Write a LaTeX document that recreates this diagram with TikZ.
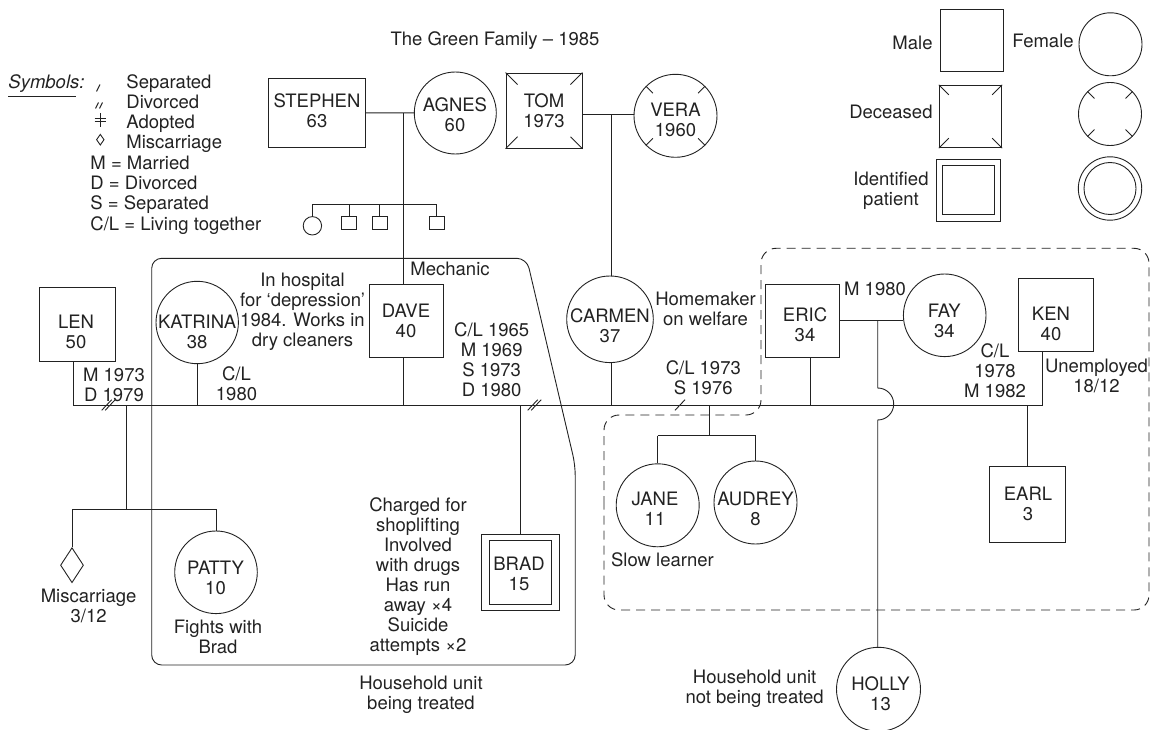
\documentclass[tikz,border=0pt]{standalone}
\usepackage{fontspec}
\setmainfont{TeX Gyre Heros}
\usetikzlibrary{shapes.geometric,calc}
\definecolor{ink}{HTML}{222222}
\newcommand{\fsz}{\fontsize{18.5}{20}\selectfont}
\begin{document}
\begin{tikzpicture}[x=1pt,y=-1pt,color=ink,line width=0.9pt,
  mbox/.style={draw,rectangle,inner sep=0pt},
  fcirc/.style={draw,circle,inner sep=0pt},
  txt/.style={font=\fsz,align=center,inner sep=0pt,anchor=north},
  lbl/.style={font=\fsz,inner sep=0pt},
  dashbox/.style={dash pattern=on 9pt off 6pt}]
\useasboundingbox (0,0) rectangle (1162,730);

% ---------- title ----------
\node[lbl,anchor=base] (title) at (495,46) {The Green Family – 1985};

% ---------- symbols legend ----------
\node[lbl,anchor=base west,font=\fsz\itshape] (symb) at (8,89) {Symbols:};
\draw (8,96) -- (76,96);
\draw (96.5,91.5) -- (100,84.5);
\draw (95.5,108.5) -- (98.5,102.5);
\draw (99.5,108.5) -- (102.5,102.5);
\draw (100,113) -- (100,127);
\draw (94.5,118.5) -- (105.5,118.5);
\draw (94.5,121.5) -- (105.5,121.5);
\draw (100.3,134.4) -- (104,139.7) -- (100.3,145) -- (96.6,139.7) -- cycle;
\node[lbl,anchor=base west] (lg1) at (126,89) {Separated};
\node[lbl,anchor=base west] (lg2) at (126,109) {Divorced};
\node[lbl,anchor=base west] (lg3) at (126,129) {Adopted};
\node[lbl,anchor=base west] (lg4) at (126,149) {Miscarriage};
\node[lbl,anchor=base west] (lg5) at (90,170) {M = Married};
\node[lbl,anchor=base west] (lg6) at (90,190) {D = Divorced};
\node[lbl,anchor=base west] (lg7) at (90,210) {S = Separated};
\node[lbl,anchor=base west] (lg8) at (90,230) {C/L = Living together};

% ---------- shape legend ----------
\node[lbl,anchor=base east] (l-male) at (933,50) {Male};
\node[mbox,minimum width=63pt,minimum height=62pt] (s-male) at (971.5,40.8) {};
\node[lbl,anchor=base west] (l-female) at (1012,48) {Female};
\node[fcirc,minimum size=63pt] (s-female) at (1110.5,44.3) {};
\node[lbl,anchor=base east] (l-dec) at (933,119) {Deceased};
\node[mbox,minimum width=62.4pt,minimum height=62.4pt] (s-decm) at (970.5,116.5) {};
\draw (s-decm.north west) -- ++(10,10);
\draw (s-decm.north east) -- ++(-10,10);
\draw (s-decm.south west) -- ++(10,-10);
\draw (s-decm.south east) -- ++(-10,-10);
\node[fcirc,minimum size=63pt] (s-decf) at (1110,114) {};
\foreach \a in {45,135,225,315}{\draw (s-decf.\a) -- ($(s-decf.\a)!10pt!(s-decf.center)$);}
\node[txt] (l-ip) at (891,172) {Identified\\patient};
\node[mbox,minimum width=64pt,minimum height=61.7pt] (s-ipm) at (968.7,190.2) {};
\node[mbox,minimum width=51.3pt,minimum height=49.3pt] (s-ipm2) at (968.4,190.3) {};
\node[fcirc,minimum size=63.4pt] (s-ipf) at (1110,188.5) {};
\node[fcirc,minimum size=52pt] (s-ipf2) at (1110,188.5) {};

% ---------- grandparents ----------
\node[mbox,minimum width=97.4pt,minimum height=69.3pt] (stephen) at (317,112.7) {};
\node[txt] (t-stephen) at (317,93.7) {STEPHEN\\63};
\node[fcirc,minimum size=82pt] (agnes) at (455.3,113) {};
\node[txt] (t-agnes) at (455,97) {AGNES\\60};
\node[mbox,minimum width=76pt,minimum height=75.3pt] (tom) at (544,110.7) {};
\node[txt] (t-tom) at (544,93) {TOM\\1973};
\draw (tom.north west) -- ++(12,12);
\draw (tom.north east) -- ++(-12,12);
\draw (tom.south west) -- ++(12,-12);
\draw (tom.south east) -- ++(-12,-12);
\node[fcirc,minimum size=83pt] (vera) at (675.5,115.8) {};
\node[txt] (t-vera) at (675.5,103) {VERA\\1960};
\foreach \a in {45,135,225,315}{\draw (vera.\a) -- ($(vera.\a)!10pt!(vera.center)$);}

% Stephen & Agnes' other children
\node[fcirc,minimum size=18.4pt] (sib1) at (312.4,225.8) {};
\node[mbox,minimum width=15pt,minimum height=12.5pt] (sib2) at (349.2,222.9) {};
\node[mbox,minimum width=15pt,minimum height=12.5pt] (sib3) at (379.8,222.9) {};
\node[mbox,minimum width=15pt,minimum height=12.5pt] (sib4) at (436.5,222.9) {};

% ---------- middle generation ----------
\node[mbox,minimum width=76.4pt,minimum height=73.7pt] (len) at (77.5,324.2) {};
\node[txt] (t-len) at (76,315) {LEN\\50};
\node[fcirc,minimum size=82.4pt] (katrina) at (197.2,322.5) {};
\node[txt] (t-katrina) at (197.2,314.3) {KATRINA\\38};
\node[txt] (t-hosp) at (302.5,273) {In hospital\\for ‘depression’\\1984. Works in\\dry cleaners};
\node[mbox,minimum width=74pt,minimum height=73.3pt] (dave) at (406.3,320.7) {};
\node[txt] (t-dave) at (406,303.7) {DAVE\\40};
\node[lbl,anchor=base west] (t-mech) at (410,275) {Mechanic};
\node[txt] (t-dm) at (491.7,322) {C/L 1965\\M 1969\\S 1973\\D 1980};
\node[fcirc,minimum size=86.6pt] (carmen) at (610,319.3) {};
\node[txt] (t-carmen) at (610,308.7) {CARMEN\\37};
\node[txt] (t-home) at (705.5,292) {Homemaker\\on welfare};
\node[txt] (t-ce) at (703.3,360.3) {C/L 1973\\S 1976};
\node[mbox,minimum width=73.3pt,minimum height=73.3pt] (eric) at (802.3,320.7) {};
\node[txt] (t-eric) at (805,307) {ERIC\\34};
\node[lbl,anchor=base] (t-ef) at (875,295.7) {M 1980};
\node[fcirc,minimum size=82.6pt] (fay) at (944.7,315.3) {};
\node[txt] (t-fay) at (944.3,303.7) {FAY\\34};
\node[txt] (t-ck) at (995,343) {C/L\\1978\\M 1982};
\node[mbox,minimum width=75pt,minimum height=72.7pt] (ken) at (1055.8,314.7) {};
\node[txt] (t-ken) at (1051,307) {KEN\\40};
\node[txt] (t-unemp) at (1096.5,358.7) {Unemployed\\18/12};
\node[txt] (t-lk) at (114,368) {M 1973\\D 1979};
\node[txt] (t-kd) at (236.5,366.3) {C/L\\1980};

% ---------- children ----------
\node[diamond,draw,inner sep=0pt,minimum width=23pt,minimum height=35pt] (misc) at (72,565.2) {};
\node[txt] (t-misc) at (88.6,588.7) {Miscarriage\\3/12};
\node[fcirc,minimum size=82.6pt] (patty) at (216,572.3) {};
\node[txt] (t-patty) at (215.5,560.3) {PATTY\\10};
\node[txt] (t-fights) at (218,619.3) {Fights with\\Brad};
\node[mbox,minimum width=77.3pt,minimum height=76.7pt] (brad) at (520.5,572.3) {};
\node[mbox,minimum width=62.3pt,minimum height=63.3pt] (brad2) at (520.5,572.3) {};
\node[txt] (t-brad) at (519,557) {BRAD\\15};
\node[txt] (t-charged) at (418,497) {Charged for\\shoplifting\\Involved\\with drugs\\Has run\\away ×4\\Suicide\\attempts ×2};
\node[txt] (t-treated) at (421,675.3) {Household unit\\being treated};
\node[fcirc,minimum size=83pt] (jane) at (657.7,505.3) {};
\node[txt] (t-jane) at (655,492) {JANE\\11};
\node[fcirc,minimum size=83pt] (audrey) at (755.5,502.5) {};
\node[txt] (t-audrey) at (755.5,492) {AUDREY\\8};
\node[lbl,anchor=base west] (t-slow) at (610.7,566.7) {Slow learner};
\node[mbox,minimum width=75.8pt,minimum height=76.7pt] (earl) at (1027.7,504.3) {};
\node[txt] (t-earl) at (1028,486.3) {EARL\\3};
\node[fcirc,minimum size=84pt] (holly) at (878.5,689.3) {};
\node[txt] (t-holly) at (880.5,676.3) {HOLLY\\13};
\node[txt] (t-nottreated) at (754.6,669.7) {Household unit\\not being treated};

% ---------- household boundaries ----------
\draw[rounded corners=10pt] (151.7,400) -- (151.7,258.3) -- (526.7,258.3) -- (575.2,465) -- (575.2,665) -- (151.7,665) -- cycle;
\draw[dashbox,rounded corners=15pt] (604,520) -- (604,415) -- (761,415) -- (761,248.3) -- (1149,248.3) -- (1149,610) -- (604,610) -- cycle;

% ---------- connectors ----------
\coordinate (saM) at (403.3,113.3);
\coordinate (tvM) at (611,114.3);
\coordinate (efM) at (877.7,320.7);
\coordinate (ml) at (0,405);
\coordinate (sibY) at (0,204.3);

\draw (stephen) -- (agnes);
\draw (tom.east |- tvM) -- (vera.west |- tvM);
\draw (eric.east |- efM) -- (fay.west |- efM);

\draw (saM) -- (saM |- dave.north);
\draw (sib1.north |- sibY) -- (sib4.north |- sibY);
\draw (sib1.north |- sibY) -- (sib1.north);
\draw (sib2.north |- sibY) -- (sib2.north);
\draw (sib3.north |- sibY) -- (sib3.north);
\draw (sib4.north |- sibY) -- (sib4.north);

\draw (tvM) -- (tvM |- carmen.north);

% main relationship line
\draw ([xshift=-4.2pt]len.south) -- ([xshift=-4.2pt]len.south |- ml) -- ([xshift=-13.1pt]ken.south |- ml) -- ([xshift=-13.1pt]ken.south);
\draw (katrina.south) -- (katrina.south |- ml);
\draw (saM |- dave.south) -- (saM |- ml);
\draw (tvM |- carmen.south) -- (tvM |- ml);
\draw ([xshift=7.7pt]eric.south) -- ([xshift=7.7pt]eric.south |- ml);

% divorce / separation marks
\draw (101.7,410.3) -- (111.7,399.7); \draw (105.2,410.3) -- (115.2,399.7);
\draw (527.7,410.3) -- (537.7,399.7); \draw (531.2,410.3) -- (541.2,399.7);
\draw (675,410.3) -- (685,399.7);

% children lines
\coordinate (lcJ) at (126,405);
\coordinate (lcS) at (126,509);
\draw (lcJ) -- (lcS);
\draw (misc.north |- lcS) -- (patty.north |- lcS);
\draw (misc.north |- lcS) -- (misc.north);
\draw (patty.north |- lcS) -- (patty.north);

\draw (brad.north |- ml) -- (brad.north);

\coordinate (jaJ) at (709.5,405);
\coordinate (jaS) at (709.5,435.7);
\draw (jaJ) -- (jaS);
\draw (jane.north |- jaS) -- (audrey.north |- jaS);
\draw (jane.north |- jaS) -- (jane.north);
\draw (audrey.north |- jaS) -- (audrey.north);

\draw (earl.north |- ml) -- (earl.north);

\draw (efM) -- (efM |- 0,388) arc[start angle=90,end angle=-90,radius=16pt] -- (efM |- holly.north);
\end{tikzpicture}
\end{document}
